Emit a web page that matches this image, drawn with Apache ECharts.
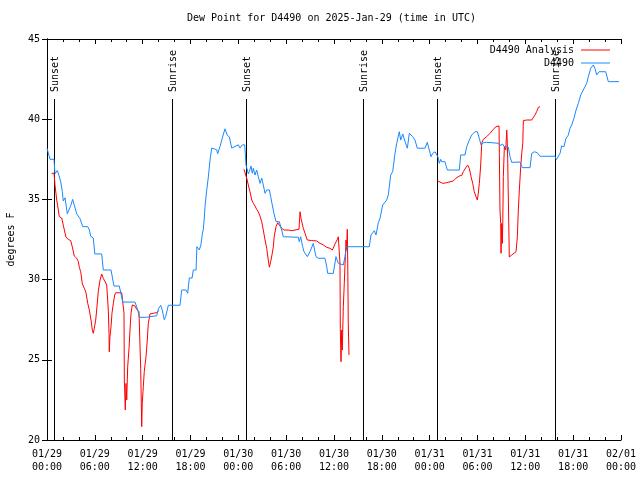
<!DOCTYPE html>
<html><head><meta charset="utf-8">
<script src="https://cdn.jsdelivr.net/npm/echarts@6/dist/echarts.min.js"></script>
<style>html,body{margin:0;padding:0;background:#fff}#c{width:640px;height:480px}</style>
</head><body><div id="c"></div>
<script>
// hours since 2025-01-29 00:00 UTC, dew point (°F)
const d4490 = [[0,38.2],[0.16,37.9],[0.38,37.5],[0.88,37.5],[1.0,36.6],[1.29,36.8],[1.5,36.5],[1.72,36.1],[1.92,35.5],[2.04,34.9],[2.26,35.1],[2.55,34.1],[2.8,34.1],[2.97,34.6],[3.22,35.0],[3.42,35.1],[3.73,34.1],[3.93,34.0],[4.14,33.8],[4.48,33.3],[5.1,33.3],[5.31,33.1],[5.48,32.7],[5.8,32.6],[6.0,31.6],[6.86,31.6],[7.0,31.5],[7.06,30.6],[8.03,30.6],[8.4,29.6],[9.07,29.6],[9.5,28.6],[11.04,28.6],[11.25,28.3],[11.38,28.1],[11.58,27.65],[12.5,27.65],[12.58,27.75],[13.76,27.75],[14.0,28.2],[14.26,28.4],[14.46,28.1],[14.71,27.5],[14.89,27.7],[15.22,28.4],[16.68,28.4],[16.9,29.35],[17.44,29.35],[17.65,29.15],[17.85,30.1],[18.2,30.1],[18.35,30.6],[18.7,30.6],[18.8,32.05],[19.1,31.85],[19.3,32.15],[19.5,32.9],[19.6,33.1],[19.74,33.9],[19.82,34.55],[20.04,35.6],[20.24,36.4],[20.45,37.45],[20.66,38.2],[20.86,38.1],[21.28,38.1],[21.41,37.85],[21.7,38.3],[22.03,38.9],[22.33,39.4],[22.61,39.0],[22.87,38.9],[23.17,38.2],[23.58,38.3],[24.0,38.4],[24.2,38.2],[24.5,38.4],[24.8,38.4],[24.9,37.65],[24.96,37.15],[25.25,36.6],[25.38,36.73],[25.59,37.08],[25.75,36.63],[25.88,36.94],[26.09,36.52],[26.3,36.83],[26.5,36.42],[26.72,36.0],[26.93,36.32],[27.13,35.9],[27.35,35.38],[27.56,35.59],[27.89,35.59],[28.06,35.17],[28.26,34.65],[28.51,34.03],[28.73,33.61],[29.14,33.61],[29.23,33.51],[29.44,33.09],[29.64,32.67],[29.85,32.64],[31.52,32.64],[31.65,32.36],[31.82,32.67],[32.07,32.05],[32.24,31.74],[32.65,31.43],[32.99,31.74],[33.4,32.26],[33.74,31.43],[34.03,31.33],[34.87,31.33],[35.09,30.8],[35.21,30.39],[35.91,30.39],[36.13,30.49],[36.25,31.43],[36.54,31.02],[37.17,30.91],[37.38,31.43],[37.59,32.05],[40.43,32.05],[40.64,32.78],[40.86,32.89],[41.06,33.05],[41.27,32.78],[41.56,33.55],[41.77,33.82],[42.11,34.65],[42.61,34.96],[42.81,35.27],[43.11,36.52],[43.36,36.73],[43.65,37.87],[43.87,38.5],[44.19,39.22],[44.37,38.7],[44.62,39.08],[44.91,38.6],[45.2,38.19],[45.45,39.12],[45.87,38.91],[46.16,38.7],[46.45,38.19],[47.42,38.19],[47.7,38.56],[47.95,38.5],[48.17,37.66],[48.38,37.87],[48.67,37.97],[48.88,38.08],[49.05,37.64],[49.21,37.25],[49.39,37.5],[49.51,37.35],[49.92,37.35],[50.21,36.83],[51.72,36.83],[51.89,37.77],[52.43,37.77],[52.65,38.29],[52.97,38.7],[53.27,39.01],[53.69,39.22],[53.98,39.22],[54.23,38.81],[54.44,38.39],[54.73,38.53],[55.15,38.56],[56.61,38.5],[56.82,38.36],[57.16,38.45],[57.33,38.29],[57.87,38.25],[58.08,37.66],[58.29,37.31],[59.33,37.33],[59.62,36.98],[60.59,36.98],[60.8,37.87],[61.13,37.97],[61.5,37.91],[61.84,37.69],[63.72,37.69],[63.89,37.48],[64.14,37.5],[64.35,37.87],[64.56,38.33],[64.85,38.29],[65.1,38.81],[65.39,39.01],[65.6,39.43],[65.82,39.64],[66.1,40.06],[66.36,40.57],[66.65,40.99],[66.95,41.51],[67.27,41.82],[67.49,42.03],[67.7,42.24],[67.9,42.65],[68.2,43.17],[68.53,43.38],[68.74,43.17],[68.95,42.76],[69.24,42.96],[70.08,42.96],[70.41,42.34],[71.75,42.34]];

const d4490Analysis = [[0.59,36.63],[0.88,36.63],[0.92,36.42],[1.0,35.9],[1.22,34.96],[1.42,34.34],[1.54,33.93],[1.84,33.84],[2.04,33.4],[2.38,32.64],[2.67,32.51],[2.97,32.43],[3.17,32.05],[3.42,31.47],[3.73,31.33],[3.93,31.12],[4.05,30.77],[4.23,30.49],[4.43,29.73],[4.68,29.46],[4.89,29.18],[5.11,28.52],[5.31,28.1],[5.52,27.48],[5.68,26.86],[5.81,26.65],[5.93,26.96],[6.11,27.48],[6.23,28.1],[6.43,29.24],[6.65,29.97],[6.86,30.35],[7.06,30.08],[7.28,29.87],[7.49,29.66],[7.61,28.73],[7.69,28.1],[7.78,26.65],[7.81,25.5],[7.9,26.44],[8.03,27.06],[8.15,27.9],[8.32,28.52],[8.49,29.04],[8.62,29.18],[9.37,29.18],[9.57,29.14],[9.66,27.9],[9.7,23.74],[9.82,21.87],[9.91,23.53],[10.0,22.49],[10.12,24.57],[10.29,25.72],[10.41,26.86],[10.54,27.9],[10.7,28.42],[11.04,28.35],[11.25,28.15],[11.54,28.0],[11.75,24.47],[11.88,20.83],[11.95,22.29],[12.08,23.32],[12.2,24.26],[12.42,25.19],[12.58,26.23],[12.71,27.27],[12.92,27.86],[13.33,27.9],[13.76,27.94],[13.96,28.06],
[19,null],
[24.71,36.88],[24.96,36.83],[25.05,36.32],[25.25,35.9],[25.46,35.48],[25.68,34.96],[25.88,34.76],[26.09,34.59],[26.3,34.38],[26.5,34.23],[26.72,33.96],[26.93,33.61],[27.13,33.09],[27.35,32.47],[27.56,31.95],[27.76,31.22],[27.89,30.77],[28.06,31.12],[28.26,31.64],[28.39,32.05],[28.51,32.72],[28.73,33.3],[28.94,33.55],[29.14,33.4],[29.44,33.2],[29.73,33.09],[29.98,33.14],[30.27,33.09],[30.7,33.05],[30.9,33.14],[31.61,33.14],[31.74,34.23],[31.86,33.82],[31.95,33.92],[32.15,33.2],[32.36,32.89],[32.65,32.47],[33.2,32.43],[33.83,32.41],[34.25,32.26],[34.66,32.16],[35.09,32.01],[35.5,31.95],[35.79,31.84],[36.13,32.22],[36.42,32.51],[36.54,32.67],[36.67,32.78],[36.75,31.02],[36.79,26.96],[36.88,24.88],[36.97,26.86],[37.04,25.61],[37.17,28.31],[37.29,29.77],[37.42,31.43],[37.51,32.47],[37.59,31.84],[37.67,33.14],[37.72,31.22],[37.79,27.28],[37.88,25.3],
[43,null],
[48.96,36.17],[49.21,36.07],[49.64,36.0],[50.14,36.04],[50.55,36.1],[50.97,36.15],[51.3,36.32],[51.72,36.46],[52.02,36.5],[52.22,36.73],[52.56,37.0],[52.77,37.14],[52.97,36.94],[53.19,36.42],[53.4,36.0],[53.6,35.48],[53.81,35.17],[53.98,34.96],[54.1,35.38],[54.23,36.0],[54.4,37.14],[54.53,38.5],[54.73,38.75],[55.15,38.91],[55.57,39.12],[55.98,39.37],[56.32,39.53],[56.7,39.58],[56.74,37.87],[56.82,34.34],[56.91,33.51],[56.95,31.64],[57.04,33.51],[57.12,32.26],[57.17,33.51],[57.24,36.42],[57.37,38.29],[57.54,38.08],[57.67,39.33],[57.74,38.5],[57.79,37.46],[57.87,34.96],[57.99,31.41],[58.29,31.53],[58.49,31.64],[58.83,31.74],[59.0,32.67],[59.12,34.34],[59.25,35.59],[59.42,37.04],[59.55,37.87],[59.68,38.5],[59.75,39.91],[60.17,39.95],[60.8,39.95],[61.0,40.06],[61.21,40.26],[61.42,40.47],[61.63,40.74],[61.84,40.78]];

const sunHours  = [0.92, 15.72, 25.0, 39.68, 48.96, 63.76];
const sunLabels = ['Sunset','Sunrise','Sunset','Sunrise','Sunset','Sunrise'];
const xTickLabels = ['01/29\n00:00','01/29\n06:00','01/29\n12:00','01/29\n18:00','01/30\n00:00','01/30\n06:00','01/30\n12:00','01/30\n18:00','01/31\n00:00','01/31\n06:00','01/31\n12:00','01/31\n18:00','02/01\n00:00'];
const seriesNames = ['D4490 Analysis','D4490'];
const titleText = 'Dew Point for D4490 on 2025-Jan-29 (time in UTC)';
const yName = 'degrees F';

const FONT = 'DejaVu Sans Mono';
const SUN_TOP = 41.26;
const chart = echarts.init(document.getElementById('c'), null, {renderer:'canvas'});
const axisLine = {show:true, lineStyle:{color:'#000', width:1}};
chart.setOption({
  animation:false,
  backgroundColor:'#fff',
  title:{text:titleText, left:187, top:13, padding:0,
    textStyle:{fontFamily:FONT, fontSize:10, fontWeight:'normal', color:'#000'}},
  legend:{data:seriesNames, orient:'vertical', right:30, top:45, align:'right',
    itemWidth:29, itemHeight:1, itemGap:3, icon:'rect', padding:0,
    textStyle:{fontFamily:FONT, fontSize:10, color:'#000', padding:[0,2,0,0]}},
  grid:{left:47, right:19, top:39, bottom:40, containLabel:false, outerBoundsMode:'none'},
  xAxis:[{type:'value', min:0, max:72, interval:6, position:'bottom',
      axisLine, splitLine:{show:false},
      axisTick:{show:true, inside:true, length:5, lineStyle:{color:'#000'}},
      minorTick:{show:true, splitNumber:3, length:3, lineStyle:{color:'#000'}},
      axisLabel:{fontFamily:FONT, fontSize:10, color:'#000', margin:8, lineHeight:13,
        formatter:(v)=>xTickLabels[Math.round(v/6)]}},
    {type:'value', min:0, max:72, interval:6, position:'top',
      axisLine, splitLine:{show:false},
      axisTick:{show:true, inside:true, length:5, lineStyle:{color:'#000'}},
      minorTick:{show:true, splitNumber:3, length:3, lineStyle:{color:'#000'}},
      axisLabel:{show:false}}],
  yAxis:[{type:'value', min:20, max:45, interval:5, position:'left',
      name:yName, nameLocation:'middle', nameRotate:90, nameGap:31,
      nameTextStyle:{fontFamily:FONT, fontSize:10, color:'#000'},
      axisLine, splitLine:{show:false},
      axisTick:{show:true, inside:true, length:5, lineStyle:{color:'#000'}},
      axisLabel:{fontFamily:FONT, fontSize:10, color:'#000', margin:7}},
    {type:'value', min:20, max:45, interval:5, position:'right',
      axisLine, splitLine:{show:false},
      axisTick:{show:true, inside:true, length:5, lineStyle:{color:'#000'}},
      axisLabel:{show:false}}],
  series:[
    {type:'custom', name:'sun', xAxisIndex:0, yAxisIndex:0, silent:true, z:1,
      data: sunHours.map(h=>[h]),
      renderItem:(params, api)=>{
        const h = api.value(0);
        const t = api.coord([h, SUN_TOP]);
        const b = api.coord([h, 20]);
        const x = Math.round(t[0]) + 0.5;
        return {type:'group', children:[
          {type:'line', shape:{x1:x, y1:Math.round(t[1]), x2:x, y2:b[1]},
            style:{stroke:'#000', lineWidth:1}},
          {type:'text', x:x+1, y:Math.round(t[1])-7, rotation:Math.PI/2,
            style:{text:sunLabels[params.dataIndex], font:'10px '+FONT, fill:'#000',
              align:'left', verticalAlign:'middle'}}
        ]};
      }},
    {type:'line', name:seriesNames[0], data:d4490Analysis, showSymbol:false, symbol:'none',
      connectNulls:false, lineStyle:{color:'#ff0000', width:1}, itemStyle:{color:'#ff0000'}, z:3},
    {type:'line', name:seriesNames[1], data:d4490, showSymbol:false, symbol:'none',
      lineStyle:{color:'#1a88ff', width:1}, itemStyle:{color:'#1a88ff'}, z:4}
  ]
});
</script></body></html>
